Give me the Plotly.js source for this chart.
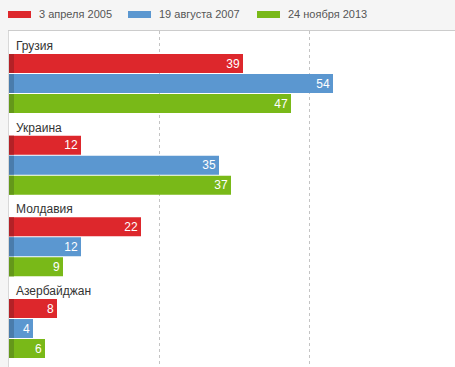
<!DOCTYPE html>
<html>
<head>
<meta charset="utf-8">
<script src="https://cdn.plot.ly/plotly-3.0.1.min.js"></script>
<style>
html,body{margin:0;padding:0;background:#f5f5f5;}
#chart{width:455px;height:367px;}
</style>
</head>
<body>
<div id="chart"></div>
<script>
const categories = ["Грузия", "Украина", "Молдавия", "Азербайджан"];
const seriesNames = ["3 апреля 2005", "19 августа 2007", "24 ноября 2013"];
const values2005 = [39, 12, 22, 8];
const values2007 = [54, 35, 12, 4];
const values2013 = [47, 37, 9, 6];
const gridTicks = [25, 50];

const seriesValues = [values2005, values2007, values2013];
const colors = ["#dd272c", "#5b97d0", "#79b918"];
const stripeColors = ["#b32126", "#4a7cab", "#64981a"];
const pxPerUnit = 6;
const stripeW = 5 / pxPerUnit;

const traces = [];
seriesValues.forEach((vals, i) => {
  traces.push({
    type: "bar", orientation: "h", name: seriesNames[i],
    y: categories, x: vals, offsetgroup: "g" + i,
    marker: {color: colors[i]},
    text: vals.map(String), textposition: "inside", insidetextanchor: "end",
    textangle: 0,
    textfont: {color: "#ffffff", size: 12, family: "Liberation Sans, Arial, sans-serif"},
    constraintext: "none", cliponaxis: false,
    hoverinfo: "skip", showlegend: false
  });
});
seriesValues.forEach((vals, i) => {
  traces.push({
    type: "bar", orientation: "h",
    y: categories, x: vals.map(() => stripeW), offsetgroup: "g" + i,
    marker: {color: stripeColors[i]},
    hoverinfo: "skip", showlegend: false
  });
});

const shapes = [];
const annotations = [];
const legendX = [-1, 119, 248];
seriesNames.forEach((n, i) => {
  shapes.push({
    type: "rect", xref: "paper", yref: "paper",
    xsizemode: "pixel", ysizemode: "pixel", xanchor: 0, yanchor: 1,
    x0: legendX[i], x1: legendX[i] + 23, y0: 13, y1: 20,
    fillcolor: colors[i], line: {width: 0}
  });
  annotations.push({
    xref: "paper", yref: "paper", x: 0, y: 1, xanchor: "left", yanchor: "middle",
    xshift: legendX[i] + 29, yshift: 17, showarrow: false, text: n,
    font: {size: 11, color: "#555555", family: "Liberation Sans, Arial, sans-serif"}
  });
});
categories.forEach((c) => {
  annotations.push({
    xref: "x", yref: "y", x: 0, y: c, xanchor: "left", yanchor: "middle",
    xshift: 5, yshift: 37.5, showarrow: false, text: c,
    font: {size: 12, color: "#333333", family: "Liberation Sans, Arial, sans-serif"}
  });
});

const layout = {
  width: 455, height: 367,
  margin: {l: 9, r: 0, t: 31, b: 0, pad: 0},
  paper_bgcolor: "#f5f5f5", plot_bgcolor: "#ffffff",
  barmode: "group", bargap: 0.2653, bargroupgap: 0.05,
  xaxis: {
    range: [0, 446 / pxPerUnit], side: "top", tickvals: gridTicks,
    showticklabels: false, ticks: "", showgrid: true, gridcolor: "#c4c4c4",
    griddash: "dot", gridwidth: 1, zeroline: false,
    showline: true, linecolor: "#cccccc", linewidth: 1, fixedrange: true
  },
  yaxis: {
    type: "category", range: [3.471, -0.643], showticklabels: false, ticks: "",
    showgrid: false, zeroline: false, showline: true, linecolor: "#d8d8d8",
    linewidth: 1, fixedrange: true
  },
  showlegend: false, shapes: shapes, annotations: annotations,
  font: {family: "Liberation Sans, Arial, sans-serif"}
};

Plotly.newPlot("chart", traces, layout, {displayModeBar: false, staticPlot: true});
</script>
</body>
</html>
